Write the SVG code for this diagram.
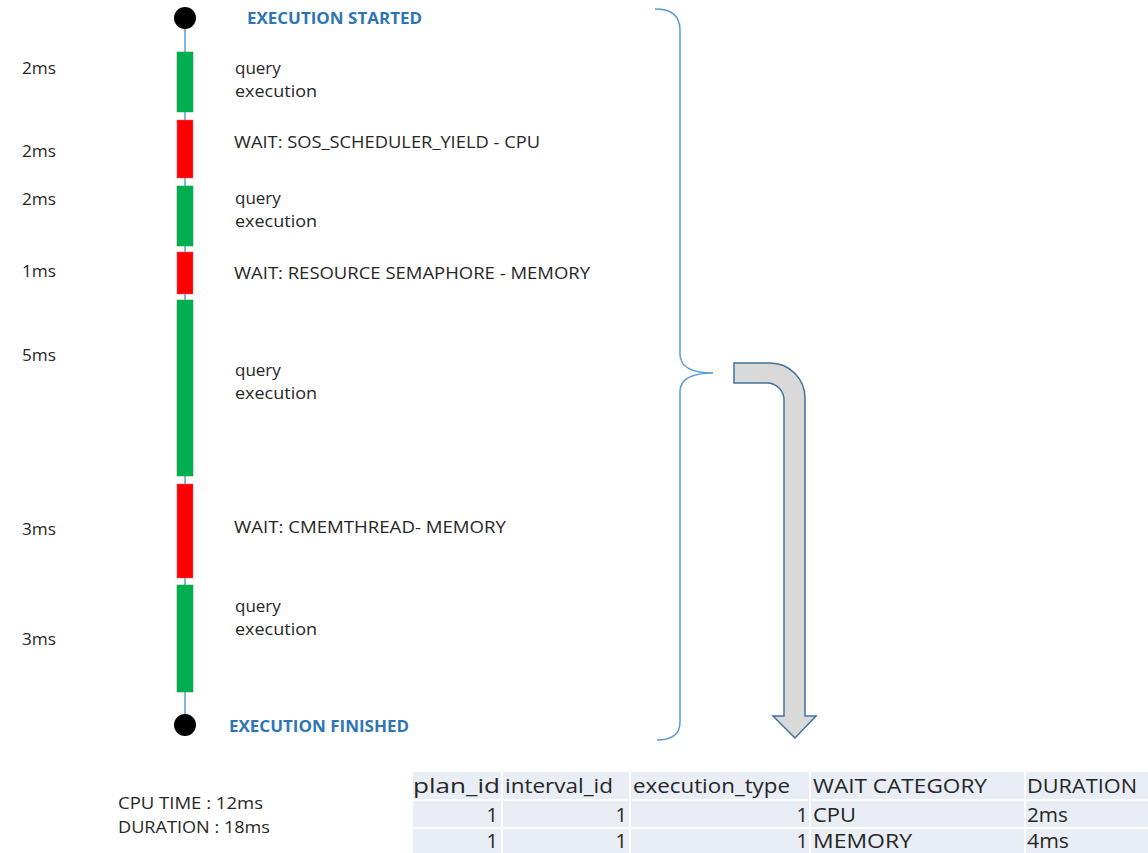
<svg xmlns="http://www.w3.org/2000/svg" width="1148" height="853" viewBox="0 0 1148 853">
<style>
.t{font-family:"Open Sans","Liberation Sans",sans-serif;font-size:17px;fill:#262626}
.w{font-family:"Open Sans","Liberation Sans",sans-serif;font-size:16px;fill:#262626}
.ms{font-family:"Open Sans","Liberation Sans",sans-serif;font-size:16px;fill:#262626}
.blue{font-family:"Open Sans","Liberation Sans",sans-serif;font-size:16px;font-weight:bold;fill:#2e75b6}
.tb{font-family:"Open Sans","Liberation Sans",sans-serif;font-size:20px;fill:#262626}
.g{fill:#00b050;stroke:#1f9a48;stroke-width:0.5}
.r{fill:#ff0000;stroke:#e06060;stroke-width:0.5}
.cell{fill:#e9edf5}
</style>
<rect width="1148" height="853" fill="#ffffff"/>
<g id="connectors">
<line x1="185" y1="18" x2="185" y2="725" stroke="#5b9bd5" stroke-width="1.5"/>
<path d="M655,9 Q680,9 680,30 L680,355 Q681,373 713,373 Q681,373 680,391 L680,722 Q680,740 657,740" fill="none" stroke="#5b9bd5" stroke-width="1.5"/>
<path d="M734,363 L770,363 A35,35 0 0 1 805,398 L805,716 L816,716 L795,738 L773,716 L784,716 L784,400 A17,17 0 0 0 767,383 L734,383 Z" fill="#d9d9d9" stroke="#41719c" stroke-width="1.5"/>
</g>
<g id="start"><circle cx="185" cy="18" r="11" fill="#000"/><text class="blue" x="247" y="24" textLength="175" lengthAdjust="spacingAndGlyphs">EXECUTION STARTED</text></g>
<g id="seg1"><rect class="g" x="177" y="52" width="16" height="60"/><text class="ms" x="22" y="74" textLength="34" lengthAdjust="spacingAndGlyphs">2ms</text><text class="t" x="235" y="74">query</text><text class="t" x="235" y="97" textLength="82" lengthAdjust="spacingAndGlyphs">execution</text></g>
<g id="seg2"><rect class="r" x="177" y="120" width="16" height="58"/><text class="ms" x="22" y="157" textLength="34" lengthAdjust="spacingAndGlyphs">2ms</text><text class="w" x="234" y="148" textLength="306" lengthAdjust="spacingAndGlyphs">WAIT: SOS_SCHEDULER_YIELD - CPU</text></g>
<g id="seg3"><rect class="g" x="177" y="186" width="16" height="60"/><text class="ms" x="22" y="205" textLength="34" lengthAdjust="spacingAndGlyphs">2ms</text><text class="t" x="235" y="204">query</text><text class="t" x="235" y="227" textLength="82" lengthAdjust="spacingAndGlyphs">execution</text></g>
<g id="seg4"><rect class="r" x="177" y="252" width="16" height="42"/><text class="ms" x="22" y="277" textLength="34" lengthAdjust="spacingAndGlyphs">1ms</text><text class="w" x="234" y="279" textLength="356" lengthAdjust="spacingAndGlyphs">WAIT: RESOURCE SEMAPHORE - MEMORY</text></g>
<g id="seg5"><rect class="g" x="177" y="300" width="16" height="176"/><text class="ms" x="22" y="361" textLength="34" lengthAdjust="spacingAndGlyphs">5ms</text><text class="t" x="235" y="376">query</text><text class="t" x="235" y="399" textLength="82" lengthAdjust="spacingAndGlyphs">execution</text></g>
<g id="seg6"><rect class="r" x="177" y="484" width="16" height="94"/><text class="ms" x="22" y="535" textLength="34" lengthAdjust="spacingAndGlyphs">3ms</text><text class="w" x="234" y="533" textLength="272" lengthAdjust="spacingAndGlyphs">WAIT: CMEMTHREAD- MEMORY</text></g>
<g id="seg7"><rect class="g" x="177" y="585" width="16" height="107"/><text class="ms" x="22" y="645" textLength="34" lengthAdjust="spacingAndGlyphs">3ms</text><text class="t" x="235" y="612">query</text><text class="t" x="235" y="635" textLength="82" lengthAdjust="spacingAndGlyphs">execution</text></g>
<g id="finish"><circle cx="185" cy="725" r="11" fill="#000"/><text class="blue" x="229" y="732" textLength="180" lengthAdjust="spacingAndGlyphs">EXECUTION FINISHED</text></g>
<g id="summary"><text class="ms" x="118" y="809" textLength="145" lengthAdjust="spacingAndGlyphs">CPU TIME : 12ms</text><text class="ms" x="118" y="833" textLength="152" lengthAdjust="spacingAndGlyphs">DURATION : 18ms</text></g>
<g id="table">
<rect class="cell" x="413" y="772" width="88" height="27"/><rect class="cell" x="503" y="772" width="126" height="27"/><rect class="cell" x="631" y="772" width="178" height="27"/><rect class="cell" x="811" y="772" width="213" height="27"/><rect class="cell" x="1026" y="772" width="122" height="27"/>
<rect class="cell" x="413" y="801" width="88" height="26"/><rect class="cell" x="503" y="801" width="126" height="26"/><rect class="cell" x="631" y="801" width="178" height="26"/><rect class="cell" x="811" y="801" width="213" height="26"/><rect class="cell" x="1026" y="801" width="122" height="26"/>
<rect class="cell" x="413" y="829" width="88" height="24"/><rect class="cell" x="503" y="829" width="126" height="24"/><rect class="cell" x="631" y="829" width="178" height="24"/><rect class="cell" x="811" y="829" width="213" height="24"/><rect class="cell" x="1026" y="829" width="122" height="24"/>
<text class="tb" x="413" y="793" textLength="87" lengthAdjust="spacingAndGlyphs">plan_id</text><text class="tb" x="505" y="793" textLength="108" lengthAdjust="spacingAndGlyphs">interval_id</text><text class="tb" x="633" y="793" textLength="157" lengthAdjust="spacingAndGlyphs">execution_type</text><text class="tb" x="813" y="793" textLength="174" lengthAdjust="spacingAndGlyphs">WAIT CATEGORY</text><text class="tb" x="1027" y="793" textLength="110" lengthAdjust="spacingAndGlyphs">DURATION</text>
<text class="tb" x="498" y="822" text-anchor="end">1</text><text class="tb" x="627" y="822" text-anchor="end">1</text><text class="tb" x="808" y="822" text-anchor="end">1</text><text class="tb" x="813" y="822" textLength="43" lengthAdjust="spacingAndGlyphs">CPU</text><text class="tb" x="1027" y="822" textLength="41" lengthAdjust="spacingAndGlyphs">2ms</text>
<text class="tb" x="498" y="848" text-anchor="end">1</text><text class="tb" x="627" y="848" text-anchor="end">1</text><text class="tb" x="808" y="848" text-anchor="end">1</text><text class="tb" x="813" y="848" textLength="99" lengthAdjust="spacingAndGlyphs">MEMORY</text><text class="tb" x="1027" y="848" textLength="42" lengthAdjust="spacingAndGlyphs">4ms</text>
</g>
</svg>
